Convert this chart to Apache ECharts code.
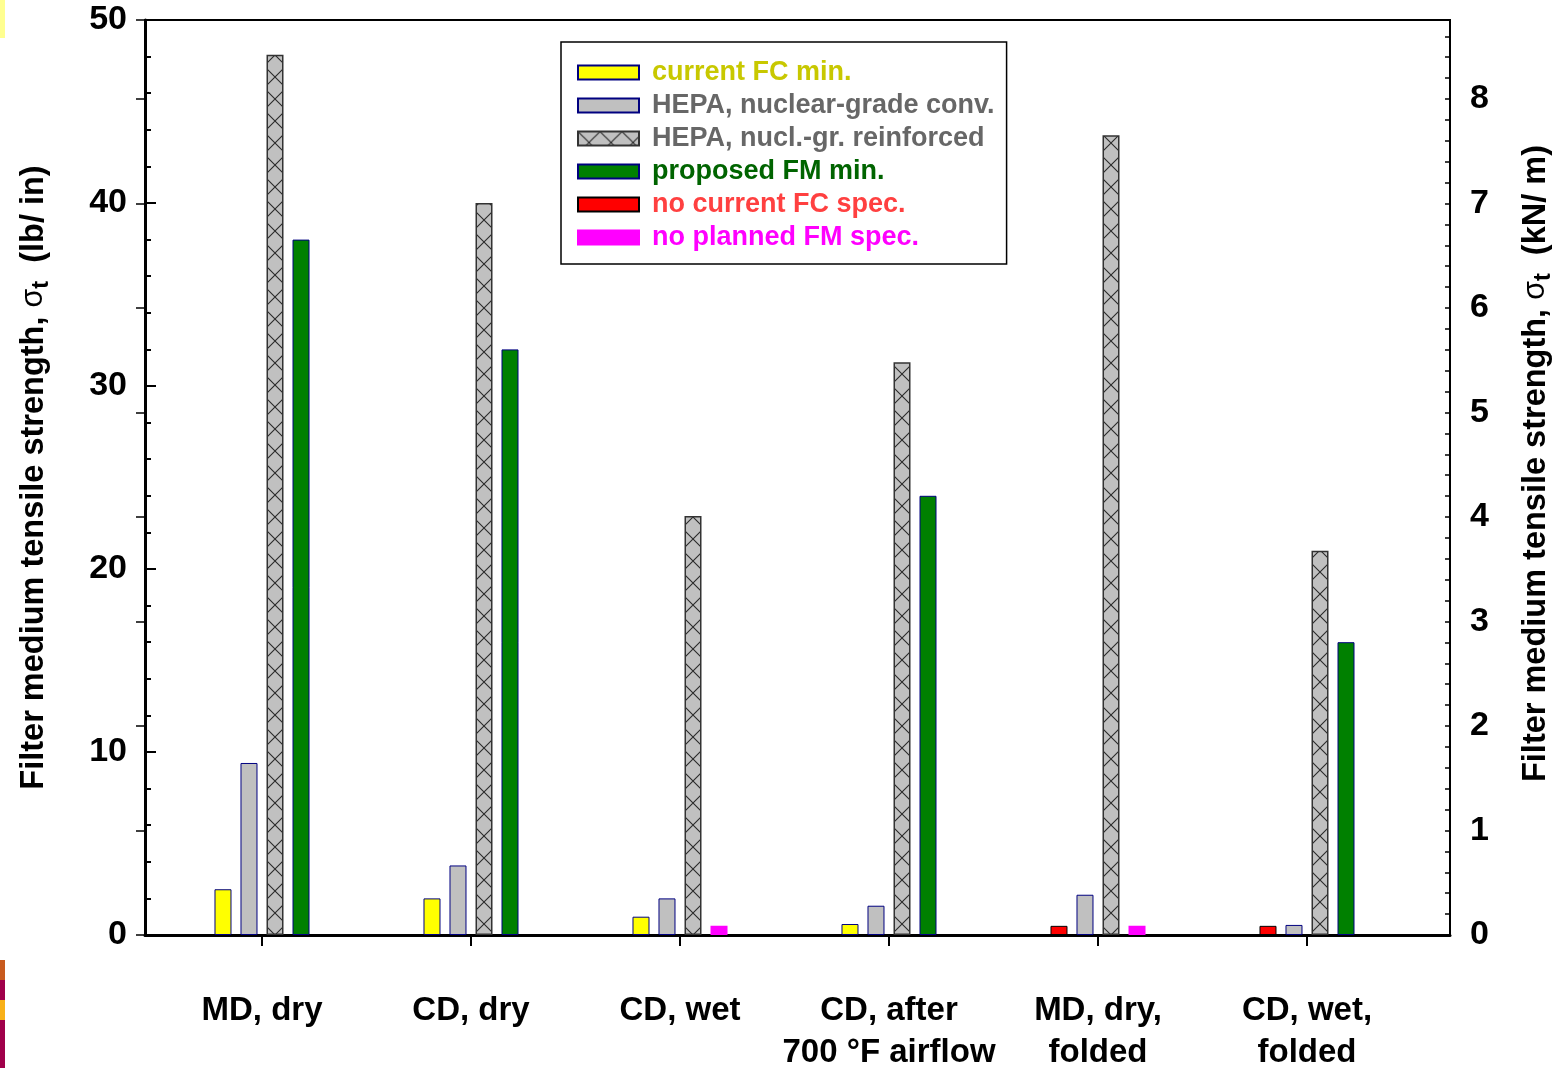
<!DOCTYPE html>
<html><head><meta charset="utf-8">
<script src="https://cdn.jsdelivr.net/npm/echarts@6/dist/echarts.min.js"></script>
<style>html,body{margin:0;padding:0;background:#fff}#chart{width:1568px;height:1068px}</style>
</head><body><div id="chart"></div>
<script>
// ---- data ----
const categories = ['MD, dry', 'CD, dry', 'CD, wet', 'CD, after\n700 °F airflow', 'MD, dry,\nfolded', 'CD, wet,\nfolded'];
const currentFCMin    = [2.5, 2.0, 1.0, 0.6, null, null];
const hepaConv        = [9.4, 3.8, 2.0, 1.6, 2.2, 0.55];
const hepaReinforced  = [48.1, 40.0, 22.9, 31.3, 43.7, 21.0];
const proposedFMMin   = [38.0, 32.0, null, 24.0, null, 16.0];
const noCurrentFCSpec = [null, null, null, null, 0.5, 0.5];
const noPlannedFMSpec = [null, null, 0.5, null, 0.5, null];
const leftAxisMax = 50;           // lb/in
const leftAxisStep = 10;
const rightAxisStep = 1;          // kN/m
const lbPerInToKNPerM = 0.175127;
const seriesNames = ['current FC min.', 'HEPA, nuclear-grade conv.', 'HEPA, nucl.-gr. reinforced', 'proposed FM min.', 'no current FC spec.', 'no planned FM spec.'];

// ---- fonts ----
const BASE = "'Liberation Sans', Arial, Helvetica, sans-serif";
function measure(font, txt){const c=document.createElement('canvas').getContext('2d');c.font=font;return c.measureText(txt).width;}
const probe = 'Filter medium tensile strength, ';
const narrowOK = measure("bold 40px 'Liberation Sans Narrow', monospace", probe) < 0.9*measure("bold 40px 'Liberation Sans'", probe);
const TITLE_FONT = narrowOK ? "'Liberation Sans Narrow', " + BASE : BASE;
const TITLE_SIZE = narrowOK ? 38 : 32.5;

function makeHatch(){
  const s=22, c=document.createElement('canvas'); c.width=s; c.height=s;
  const g=c.getContext('2d'); g.fillStyle='#c0c0c0'; g.fillRect(0,0,s,s);
  g.strokeStyle='#2a2a2a'; g.lineWidth=1.1; g.beginPath();
  g.moveTo(0,0); g.lineTo(s,s); g.moveTo(s,0); g.lineTo(0,s); g.stroke();
  return c;
}
const hatch = {image: makeHatch(), repeat: 'repeat'};

const chart = echarts.init(document.getElementById('chart'), null, {renderer:'canvas'});
const rightMax = leftAxisMax * lbPerInToKNPerM;

function titleRich(unit, lead){
  return {
    text: (lead ? '{p| }' : '') + '{a|Filter medium tensile strength, }{s|σ}{t|t}{a|  (' + unit + ')}',
    rich: {
      p: {width: lead || 0, fontSize: 10},
      a: {fontSize: TITLE_SIZE, fontWeight:'bold', fontFamily: TITLE_FONT, color:'#000', lineHeight: 40},
      s: {fontSize: TITLE_SIZE-2, fontWeight:'normal', fontFamily: BASE, color:'#000', lineHeight: 40},
      t: {fontSize: TITLE_SIZE-9, fontWeight:'bold', fontFamily: BASE, color:'#000', lineHeight: 22, verticalAlign:'bottom'}
    }
  };
}
const lt = titleRich('lb/ in', 0), rt = titleRich('kN/ m', 28);

const barCommon = {type:'bar', xAxisIndex:1, yAxisIndex:3, barWidth:17, barGap:'53%'};

const option = {
  animation:false,
  backgroundColor:'#fff',
  graphic:[
    {type:'rect', shape:{x:0,y:0,width:5,height:38}, style:{fill:'#ffff90'}},
    {type:'rect', shape:{x:0,y:960,width:5,height:20}, style:{fill:'#c85a1e'}},
    {type:'rect', shape:{x:0,y:980,width:5,height:20}, style:{fill:'#a0004a'}},
    {type:'rect', shape:{x:0,y:1000,width:5,height:20}, style:{fill:'#f8b018'}},
    {type:'rect', shape:{x:0,y:1020,width:5,height:48}, style:{fill:'#a0004a'}}
  ],
  grid:[
    {left:145, right:118, top:20, bottom:133, show:true, borderColor:'#000', borderWidth:2, backgroundColor:'transparent', outerBoundsMode:'none', containLabel:false},
    {left:157.5, right:156.5, top:20, bottom:133, outerBoundsMode:'none', containLabel:false}
  ],
  legend:{
    orient:'vertical', left:561, top:42, padding:[17,12,13,16], itemGap:6,
    itemWidth:61, itemHeight:14, icon:'rect', selectedMode:false,
    backgroundColor:'#fff', borderColor:'#000', borderWidth:1.5,
    textStyle:{fontSize:27, fontWeight:'bold', fontFamily:BASE, lineHeight:26, padding:[0,0,0,8]},
    data:[
      {name:seriesNames[0], textStyle:{color:'#c8c800'}},
      {name:seriesNames[1], textStyle:{color:'#676767'}},
      {name:seriesNames[2], textStyle:{color:'#676767'}},
      {name:seriesNames[3], textStyle:{color:'#006400'}},
      {name:seriesNames[4], textStyle:{color:'#ff4040'}},
      {name:seriesNames[5], textStyle:{color:'#ff00ff'}}
    ]
  },
  xAxis:[
    {gridIndex:0, type:'value', min:0, max:1, axisLine:{show:true, onZero:false, lineStyle:{color:'#000', width:3}}, axisTick:{show:false}, axisLabel:{show:false}, splitLine:{show:false}},
    {gridIndex:1, type:'category', data:categories, position:'bottom',
     axisLine:{show:false}, axisTick:{show:true, alignWithLabel:true, length:11, lineStyle:{color:'#000', width:2}},
     axisLabel:{interval:0, margin:55, fontSize:33, fontWeight:'bold', fontFamily:BASE, color:'#000', lineHeight:42},
     splitLine:{show:false}}
  ],
  yAxis:[
    {gridIndex:0, type:'value', position:'left', min:0, max:leftAxisMax, interval:leftAxisStep,
     axisLine:{show:true, onZero:false, lineStyle:{color:'#000', width:3}},
     axisTick:{show:true, inside:true, length:11, lineStyle:{color:'#000', width:2}},
     minorTick:{show:true, splitNumber:5, length:6, lineStyle:{color:'#000', width:2}},
     axisLabel:{margin:18, fontSize:34, fontWeight:'bold', fontFamily:BASE, color:'#000'},
     splitLine:{show:false}, minorSplitLine:{show:false},
     name: lt.text, nameLocation:'middle', nameRotate:90, nameGap:91, nameTextStyle:{rich: lt.rich}},
    {gridIndex:0, type:'value', position:'right', min:0, max:rightMax, interval:0.2,
     axisLine:{show:true, onZero:false, lineStyle:{color:'#000', width:1.5}},
     axisTick:{show:true, inside:true, length:5, lineStyle:{color:'#000', width:1.5}},
     axisLabel:{margin:20, fontSize:34, fontWeight:'bold', fontFamily:BASE, color:'#000',
       formatter:v => Math.abs(v - Math.round(v)) < 1e-6 ? String(Math.round(v)) : ''},
     splitLine:{show:false},
     name: rt.text, nameLocation:'middle', nameRotate:90, nameGap:66, nameTextStyle:{rich: rt.rich}},
    {gridIndex:0, type:'value', position:'right', min:0, max:rightMax, interval:rightAxisStep,
     axisLine:{show:false}, axisTick:{show:true, inside:true, length:9, lineStyle:{color:'#000', width:1.5}},
     axisLabel:{show:false}, splitLine:{show:false}},
    {gridIndex:1, type:'value', min:0, max:leftAxisMax, show:false, splitLine:{show:false}}
  ],
  series:[
    Object.assign({}, barCommon, {name:seriesNames[0], stack:'s1', data:currentFCMin,
      itemStyle:{color:'#ffff00', borderColor:'#000080', borderWidth:1}}),
    Object.assign({}, barCommon, {name:seriesNames[1], stack:'s2', data:hepaConv,
      itemStyle:{color:'#c0c0c0', borderColor:'#000080', borderWidth:1}}),
    Object.assign({}, barCommon, {name:seriesNames[2], stack:'s3', data:hepaReinforced,
      itemStyle:{color:hatch, borderColor:'#333333', borderWidth:1.5}}),
    Object.assign({}, barCommon, {name:seriesNames[3], stack:'s4', data:proposedFMMin,
      itemStyle:{color:'#008000', borderColor:'#000080', borderWidth:1}}),
    Object.assign({}, barCommon, {name:seriesNames[4], stack:'s1', data:noCurrentFCSpec,
      itemStyle:{color:'#ff0000', borderColor:'#000', borderWidth:1}}),
    Object.assign({}, barCommon, {name:seriesNames[5], stack:'s4', data:noPlannedFMSpec,
      itemStyle:{color:'#ff00ff', borderColor:'#ff00ff', borderWidth:3}})
  ]
};
chart.setOption(option);
</script></body></html>
